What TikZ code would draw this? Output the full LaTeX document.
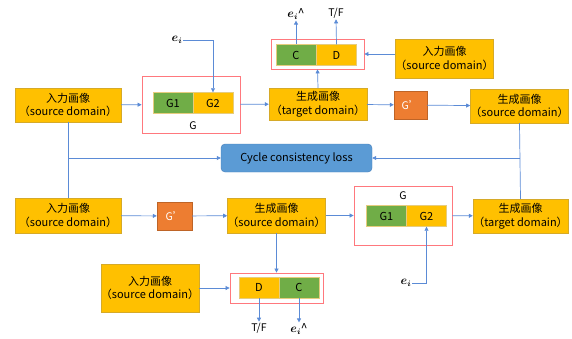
\documentclass[tikz,border=0pt]{standalone}
\usepackage{fontspec}
\setmainfont{Noto Sans CJK SC}
\usepackage{tikz}
\usetikzlibrary{arrows.meta, positioning}
\definecolor{imgyellow}{RGB}{255,192,0}
\definecolor{imgedge}{RGB}{214,170,40}
\definecolor{netgreen}{RGB}{112,173,71}
\definecolor{netorange}{RGB}{237,125,49}
\definecolor{wireblue}{RGB}{91,139,214}
\definecolor{boxred}{RGB}{255,120,125}
\definecolor{lossblue}{RGB}{91,155,213}
\definecolor{lossedge}{RGB}{70,125,185}
\tikzset{
	img/.style={draw=imgedge, fill=imgyellow, align=center, inner sep=0pt, font=\fontsize{11}{13.5}\selectfont},
	net/.style={draw=imgedge!60, inner sep=0pt, minimum width=40pt, minimum height=21pt, font=\fontsize{11}{12}\selectfont},
	frame/.style={draw=boxred, line width=0.8pt, inner sep=0pt},
	wire/.style={draw=wireblue, line width=0.7pt},
	arr/.style={wire, -{Triangle[length=4pt, width=4pt]}},
	lbl/.style={inner sep=1pt, font=\fontsize{10.5}{12}\selectfont},
	eps/.style={inner sep=1pt, font=\fontsize{12}{14}\selectfont\boldmath}
}
\begin{document}
\begin{tikzpicture}[x=1pt, y=-1pt]
			% Paths, nodes and wires:
			\useasboundingbox (0, 0) rectangle (572, 338);
			\node[img, minimum width=106pt, minimum height=34pt](N1) at (68, 105){入力画像\\（source domain）};
			\node[frame, minimum width=98pt, minimum height=57pt](N2) at (191, 104.5){};
			\node[net, fill=netgreen](N3) at (173, 103){G1};
			\node[net, fill=imgyellow](N4) at (213, 103){G2};
			\node[lbl](N5) at (193, 126){G};
			\node[eps](N6) at (177, 40){$e_i$};
			\node[img, minimum width=98pt, minimum height=32pt](N7) at (318, 104){生成画像\\（target domain）};
			\node[frame, minimum width=93pt, minimum height=30pt](N8) at (317.5, 54){};
			\node[net, fill=netgreen](N9) at (296, 55){C};
			\node[net, fill=imgyellow](N10) at (336.5, 55){D};
			\node[eps](N11) at (296, 14){$e_i$\textasciicircum};
			\node[lbl](N12) at (336, 13){T/F};
			\node[img, minimum width=97pt, minimum height=39pt](N13) at (444.5, 58.5){入力画像\\（source domain）};
			\node[draw=netorange!80!black, fill=netorange, text=white, minimum width=33pt, minimum height=28pt, inner sep=0pt, font=\fontsize{10.5}{12}\selectfont](N14) at (410.5, 105){G'};
			\node[img, minimum width=97pt, minimum height=34pt](N15) at (519.5, 106){生成画像\\（source domain）};
			\node[draw=lossedge, fill=lossblue, rounded corners=4pt, minimum width=151pt, minimum height=28pt, inner sep=0pt, font=\fontsize{11}{12}\selectfont](N16) at (296.5, 158){Cycle consistency loss};
			\node[img, minimum width=106pt, minimum height=35pt](N17) at (68, 215.5){入力画像\\（source domain）};
			\node[draw=netorange!80!black, fill=netorange, text=white, minimum width=35pt, minimum height=28pt, inner sep=0pt, font=\fontsize{10.5}{12}\selectfont](N18) at (174.5, 216){G'};
			\node[img, minimum width=97pt, minimum height=35pt](N19) at (276.5, 215.5){生成画像\\（source domain）};
			\node[frame, minimum width=98pt, minimum height=59pt](N20) at (403, 215.5){};
			\node[lbl](N21) at (403, 196){G};
			\node[net, fill=netgreen](N22) at (386.5, 216){G1};
			\node[net, fill=imgyellow](N23) at (426.5, 216){G2};
			\node[eps](N24) at (406, 283){$e_i$};
			\node[img, minimum width=95pt, minimum height=34pt](N25) at (520.5, 216){生成画像\\（target domain）};
			\node[img, minimum width=98pt, minimum height=48pt](N26) at (150, 288){入力画像\\（source domain）};
			\node[frame, minimum width=93pt, minimum height=30pt](N27) at (276.5, 288){};
			\node[net, fill=imgyellow](N28) at (259, 287.5){D};
			\node[net, fill=netgreen](N29) at (299, 287.5){C};
			\node[lbl](N30) at (259, 328){T/F};
			\node[eps](N31) at (299, 329){$e_i$\textasciicircum};
			\draw[arr] (N1) -- (N2);
			\draw[arr] (N6.east) -| (N4.north);
			\draw[arr] (N2) -- (N7);
			\draw[arr] (N7) -- (N14);
			\draw[arr] (N14) -- (N15);
			\draw[arr] (N7.north) -- (N8.south);
			\draw[arr] (N13.west |- N8.east) -- (N8.east);
			\draw[arr] (N9.north) -- (N11.south);
			\draw[arr] (N10.north) -- (N12.south);
			\draw[wire] (N1.south) -- (N17.north);
			\draw[arr] (N1.south |- N16.west) -- (N16.west);
			\draw[wire] (N15.south) -- (N25.north);
			\draw[arr] (N15.south |- N16.east) -- (N16.east);
			\draw[arr] (N17) -- (N18);
			\draw[arr] (N18) -- (N19);
			\draw[arr] (N19) -- (N20);
			\draw[arr] (N20) -- (N25);
			\draw[arr] (N24.east) -| (N23.south);
			\draw[arr] (N19.south) -- (N27.north);
			\draw[arr] (N26.east |- N27.west) -- (N27.west);
			\draw[arr] (N28.south) -- (N30.north);
			\draw[arr] (N29.south) -- (N31.north);
		\end{tikzpicture}
\end{document}
